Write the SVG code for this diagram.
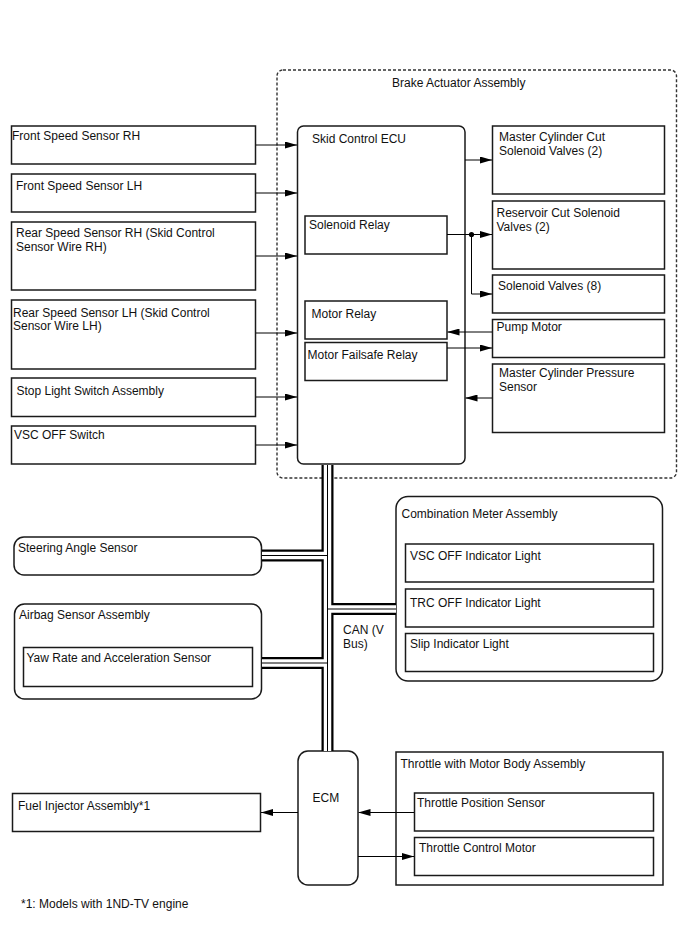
<svg xmlns="http://www.w3.org/2000/svg" width="688" height="949" viewBox="0 0 688 949">
<style>
text{font-family:"Liberation Sans",Arial,sans-serif;font-size:12px;fill:#111}
.b{fill:#fff;stroke:#1a1a1a;stroke-width:1.5}
.c{fill:none;stroke:#000;stroke-width:1}
.busK{fill:none;stroke:#000;stroke-width:12}
.busW{fill:none;stroke:#fff;stroke-width:7.5}
.busC{fill:none;stroke:#000;stroke-width:1}
</style>
<defs>
<marker id="ah" markerWidth="12" markerHeight="7" refX="12" refY="3.5" orient="auto" markerUnits="userSpaceOnUse"><path d="M0,0 L12,3.5 L0,7 z" fill="#000"/></marker>
</defs>
<rect width="688" height="949" fill="#fff"/>
<g id="brake-actuator-assembly">
<rect x="277" y="70" width="399.5" height="408" rx="6" fill="none" stroke="#333" stroke-width="1.4" stroke-dasharray="3,2"/>
<text x="392" y="87">Brake Actuator Assembly</text>
</g>
<g id="front-speed-sensor-rh"><rect class="b" x="11.5" y="126" width="244" height="38"/><text x="12" y="140">Front Speed Sensor RH</text></g>
<g id="front-speed-sensor-lh"><rect class="b" x="11.5" y="174" width="244" height="38"/><text x="16" y="190">Front Speed Sensor LH</text></g>
<g id="rear-speed-sensor-rh"><rect class="b" x="11.5" y="222" width="244" height="68"/><text x="16" y="237">Rear Speed Sensor RH (Skid Control</text><text x="16" y="250.5">Sensor Wire RH)</text></g>
<g id="rear-speed-sensor-lh"><rect class="b" x="11.5" y="300" width="244" height="69"/><text x="13" y="316.5">Rear Speed Sensor LH (Skid Control</text><text x="13" y="330">Sensor Wire LH)</text></g>
<g id="stop-light-switch"><rect class="b" x="11.5" y="378" width="244" height="38.5"/><text x="16.5" y="395">Stop Light Switch Assembly</text></g>
<g id="vsc-off-switch"><rect class="b" x="11.5" y="426" width="244" height="38"/><text x="14" y="438.5">VSC OFF Switch</text></g>
<g id="skid-control-ecu"><rect class="b" x="297.5" y="126" width="167.5" height="338" rx="6"/><text x="312" y="143">Skid Control ECU</text></g>
<g id="solenoid-relay"><rect class="b" x="305" y="216" width="142" height="38"/><text x="309" y="229">Solenoid Relay</text></g>
<g id="motor-relay"><rect class="b" x="305" y="301" width="142" height="38"/><text x="311.5" y="317.5">Motor Relay</text></g>
<g id="motor-failsafe-relay"><rect class="b" x="305" y="342.5" width="142" height="38"/><text x="307.5" y="358.5">Motor Failsafe Relay</text></g>
<g id="master-cylinder-cut-valves"><rect class="b" x="492.5" y="126" width="172" height="68"/><text x="499" y="141">Master Cylinder Cut</text><text x="499" y="155">Solenoid Valves (2)</text></g>
<g id="reservoir-cut-valves"><rect class="b" x="492.5" y="201" width="172" height="68"/><text x="496.5" y="217">Reservoir Cut Solenoid</text><text x="496.5" y="230.5">Valves (2)</text></g>
<g id="solenoid-valves"><rect class="b" x="492.5" y="275" width="172" height="38"/><text x="498" y="290">Solenoid Valves (8)</text></g>
<g id="pump-motor"><rect class="b" x="492.5" y="319.5" width="172" height="38"/><text x="496.5" y="331">Pump Motor</text></g>
<g id="master-cylinder-pressure-sensor"><rect class="b" x="492.5" y="364" width="172" height="68.5"/><text x="499" y="377">Master Cylinder Pressure</text><text x="499" y="391">Sensor</text></g>
<g id="combination-meter"><rect class="b" x="396" y="496.5" width="266.5" height="184.5" rx="12"/><text x="401.5" y="517.5">Combination Meter Assembly</text></g>
<g id="vsc-off-indicator"><rect class="b" x="405.5" y="544" width="248" height="38"/><text x="410" y="559.5">VSC OFF Indicator Light</text></g>
<g id="trc-off-indicator"><rect class="b" x="405.5" y="589" width="248" height="38"/><text x="410" y="607">TRC OFF Indicator Light</text></g>
<g id="slip-indicator"><rect class="b" x="405.5" y="633.5" width="248" height="38"/><text x="410" y="648">Slip Indicator Light</text></g>
<g id="steering-angle-sensor"><rect class="b" x="14" y="537" width="247.5" height="38" rx="10"/><text x="18" y="552">Steering Angle Sensor</text></g>
<g id="airbag-sensor-assembly"><rect class="b" x="14.5" y="604" width="247" height="95" rx="10"/><text x="19" y="619">Airbag Sensor Assembly</text></g>
<g id="yaw-rate-sensor"><rect class="b" x="23.5" y="647.5" width="229" height="39"/><text x="26.5" y="662">Yaw Rate and Acceleration Sensor</text></g>
<g id="ecm"><rect class="b" x="298" y="751" width="60" height="134" rx="10"/><text x="312.5" y="802">ECM</text></g>
<g id="fuel-injector"><rect class="b" x="12.5" y="793.5" width="248" height="38"/><text x="18" y="810">Fuel Injector Assembly*1</text></g>
<g id="throttle-body"><rect class="b" x="396" y="752" width="267" height="133"/><text x="400.5" y="767.5">Throttle with Motor Body Assembly</text></g>
<g id="throttle-position-sensor"><rect class="b" x="414.5" y="793" width="239" height="38"/><text x="417" y="807">Throttle Position Sensor</text></g>
<g id="throttle-control-motor"><rect class="b" x="414.5" y="837.5" width="239" height="38"/><text x="419" y="852">Throttle Control Motor</text></g>
<g id="connectors">
<path class="c" marker-end="url(#ah)" d="M256,145 H297"/>
<path class="c" marker-end="url(#ah)" d="M256,193 H297"/>
<path class="c" marker-end="url(#ah)" d="M256,256 H297"/>
<path class="c" marker-end="url(#ah)" d="M256,333 H297"/>
<path class="c" marker-end="url(#ah)" d="M256,397 H297"/>
<path class="c" marker-end="url(#ah)" d="M256,445 H297"/>
<path class="c" marker-end="url(#ah)" d="M465,160 H492"/>
<path class="c" marker-end="url(#ah)" d="M447,234.5 H492"/>
<circle cx="471.5" cy="234.5" r="2.6" fill="#000"/>
<path class="c" marker-end="url(#ah)" d="M471.5,234.5 V294 H492"/>
<path class="c" marker-end="url(#ah)" d="M492,332 H447.5"/>
<path class="c" marker-end="url(#ah)" d="M447,348 H492"/>
<path class="c" marker-end="url(#ah)" d="M492,398 H465.5"/>
<path class="c" marker-end="url(#ah)" d="M298,812.5 H261"/>
<path class="c" marker-end="url(#ah)" d="M414,812.5 H358.5"/>
<path class="c" marker-end="url(#ah)" d="M358,856.5 H414"/>
<g id="can-bus">
<path class="busK" d="M327.5,465 V751 M262,555.5 H327.5 M327.5,609 H396 M262,663 H327.5"/>
<path class="busW" d="M327.5,465 V751 M262,555.5 H327.5 M327.5,609 H396 M262,663 H327.5"/>
<path class="busC" d="M327.5,465 V751 M262,555.5 H327.5 M327.5,609 H396 M262,663 H327.5"/>
</g>
<text x="343" y="633.5">CAN (V</text>
<text x="343" y="647.5">Bus)</text>
</g>
<text x="21" y="908">*1: Models with 1ND-TV engine</text>
</svg>
